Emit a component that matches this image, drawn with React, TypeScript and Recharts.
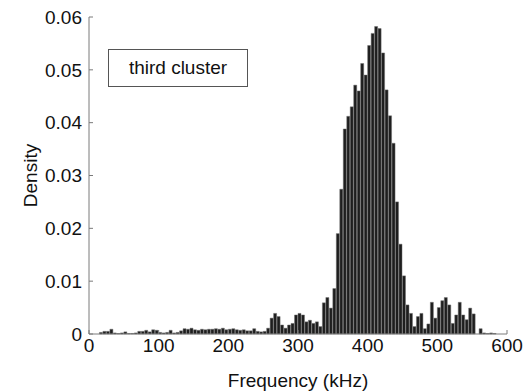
import React from 'react';
import { BarChart, Bar, XAxis, YAxis, Legend } from 'recharts';

// histogram bins, 5 kHz wide, centres 2.5 ... 597.5
const binWidth = 5;
const density = [
  0, 0, 0, 0.0003, 0.0005, 0.0005, 0.0009, 0.0002, 0.0001, 0.0002,
  0.0004, 0.0001, 0.0001, 0.0002, 0.0005, 0.0005, 0.0007, 0.0004, 0.0008, 0.0007,
  0.0003, 0.0002, 0.0003, 0.0007, 0.0002, 0.0003, 0.0006, 0.001, 0.0009, 0.0011,
  0.0008, 0.0007, 0.0009, 0.0008, 0.0009, 0.0009, 0.001, 0.0009, 0.0011, 0.0008,
  0.0009, 0.001, 0.0008, 0.0007, 0.0008, 0.0006, 0.0006, 0.001, 0.0005, 0.0004,
  0.0005, 0.0011, 0.003, 0.0039, 0.0033, 0.0017, 0.0011, 0.0017, 0.002, 0.0036,
  0.0039, 0.0036, 0.0023, 0.0026, 0.002, 0.0023, 0.0014, 0.0059, 0.0069, 0.0049,
  0.0086, 0.019, 0.0274, 0.0388, 0.0412, 0.043, 0.0471, 0.046, 0.0512, 0.049,
  0.0546, 0.0569, 0.0582, 0.0578, 0.0532, 0.0462, 0.0413, 0.0361, 0.025, 0.017,
  0.011, 0.0055, 0.0039, 0.0014, 0.0033, 0.0039, 0.001, 0.0019, 0.006, 0.003,
  0.005, 0.0063, 0.0069, 0.0055, 0.002, 0.0036, 0.006, 0.0036, 0.0027, 0.0049,
  0.0038, 0, 0.001, 0.0002, 0.0001, 0.0002, 0.0001, 0, 0, 0,
];
const xTicks = [0, 100, 200, 300, 400, 500, 600];
const yTicks = [0, 0.01, 0.02, 0.03, 0.04, 0.05, 0.06];
const seriesName = 'third cluster';

const data = density.map((d, i) => ({ freq: i * binWidth + binWidth / 2, density: d }));

const font = '"Liberation Sans", Arial, sans-serif';
const axisGray = '#7a7a7a';
const tickStyle = { fontSize: 19, fill: '#111', fontFamily: font };

const LegendBox = (props: any) => {
  const label = props.payload && props.payload[0] ? props.payload[0].value : seriesName;
  return (
    <div
      style={{
        boxSizing: 'border-box',
        width: 140,
        height: 38,
        border: '1px solid #555',
        background: '#fff',
        display: 'flex',
        alignItems: 'center',
        justifyContent: 'center',
        fontSize: 19,
        fontFamily: font,
        color: '#111',
      }}
    >
      {label}
    </div>
  );
};

const App = () => {
  return (
    <div style={{ position: 'absolute', left: 0, top: 0, width: 531, height: 392, background: '#fff', fontFamily: font }}>
      <BarChart
        width={531}
        height={392}
        data={data}
        margin={{ top: 17, right: 24, bottom: 0, left: 0 }}
        barCategoryGap={0}
        barGap={0}
      >
        <XAxis
          dataKey="freq"
          type="number"
          domain={[0, 600]}
          ticks={xTicks}
          height={58}
          tickSize={-4}
          tickMargin={9}
          tick={tickStyle}
          axisLine={{ stroke: axisGray }}
          tickLine={{ stroke: axisGray }}
          label={(p: any) => {
            const vb = p.viewBox || { x: 89, y: 334, width: 418 };
            return (
              <text x={vb.x + vb.width / 2} y={vb.y + 53} textAnchor="middle" fontSize={19} fontFamily={font} fill="#111">
                Frequency (kHz)
              </text>
            );
          }}
        />
        <XAxis
          xAxisId="top"
          orientation="top"
          dataKey="freq"
          type="number"
          domain={[0, 600]}
          ticks={xTicks}
          height={0}
          tickSize={-4}
          tick={false}
          axisLine={{ stroke: axisGray }}
          tickLine={{ stroke: axisGray }}
        />
        <YAxis
          type="number"
          domain={[0, 0.06]}
          ticks={yTicks}
          width={89}
          tickSize={-4}
          tickMargin={11}
          tick={tickStyle}
          tickFormatter={(v: number) => (v === 0 ? '0' : v.toFixed(2))}
          axisLine={{ stroke: axisGray }}
          tickLine={{ stroke: axisGray }}
          label={(p: any) => {
            const vb = p.viewBox || { x: 0, y: 17, width: 89, height: 317 };
            const cx = 37;
            const cy = vb.y + vb.height / 2;
            return (
              <text x={cx} y={cy} transform={`rotate(-90 ${cx} ${cy})`} textAnchor="middle" fontSize={19} fontFamily={font} fill="#111">
                Density
              </text>
            );
          }}
        />
        <YAxis
          yAxisId="right"
          orientation="right"
          type="number"
          domain={[0, 0.06]}
          ticks={yTicks}
          width={0}
          tickSize={-4}
          tick={false}
          axisLine={{ stroke: axisGray }}
          tickLine={{ stroke: axisGray }}
        />
        <Legend
          layout="vertical"
          align="center"
          verticalAlign="middle"
          content={LegendBox}
          wrapperStyle={{ left: 108, top: 49, width: 140, height: 38 }}
        />
        <Bar
          dataKey="density"
          name={seriesName}
          fill="#1e1e1e"
          stroke="#6e6e6e"
          strokeWidth={0.5}
          isAnimationActive={false}
        />
      </BarChart>
    </div>
  );
};

export default App;
